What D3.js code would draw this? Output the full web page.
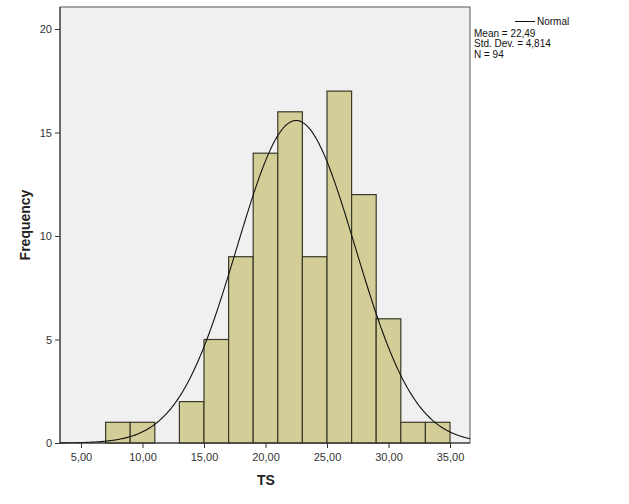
<!DOCTYPE html>
<html><head><meta charset="utf-8">
<script src="https://cdn.jsdelivr.net/npm/d3@7"></script>
<style>body{margin:0;background:#fff}svg{display:block}text{font-family:"Liberation Sans",Arial,sans-serif}</style>
</head><body><svg id="c" width="629" height="504"></svg>
<script>
const binStarts = [7,9,11,13,15,17,19,21,23,25,27,29,31,33];
const binWidth = 2;
const freqs = [1,1,0,2,5,9,14,16,9,17,12,6,1,1];
const xTicks = [5,10,15,20,25,30,35];
const yTicks = [0,5,10,15,20];
const mean = 22.49, sd = 4.814, n = 94;
const legendLines = ["Mean = 22,49","Std. Dev. = 4,814","N = 94"];

const svg = d3.select("#c");
const L=60,R=470,T=7,B=443;
const x = d3.scaleLinear().domain([5,35]).range([81,450]);
const y = d3.scaleLinear().domain([0,20]).range([B,29]);
const fmt = d => d3.format(".2f")(d).replace(".",",");

svg.append("rect").attr("x",L).attr("y",T).attr("width",R-L).attr("height",B-T)
  .attr("fill","#f0f0f0").attr("stroke","#555").attr("stroke-width",1);

svg.append("g").selectAll("rect").data(binStarts.map((s,i)=>({s,f:freqs[i]})).filter(d=>d.f>0))
  .join("rect")
  .attr("x",d=>x(d.s)).attr("width",d=>x(d.s+binWidth)-x(d.s))
  .attr("y",d=>y(d.f)).attr("height",d=>y(0)-y(d.f))
  .attr("fill","#d3ce97").attr("stroke","#3a3a2a").attr("stroke-width",1.2);

const x0 = x.invert(L), x1 = x.invert(R);
const pts = d3.range(0,401).map(i=>{const v=x0+(x1-x0)*i/400;
  const p = n*binWidth/(sd*Math.sqrt(2*Math.PI))*Math.exp(-0.5*((v-mean)/sd)**2);
  return [v,p];});
svg.append("path").datum(pts).attr("fill","none").attr("stroke","#111").attr("stroke-width",1.1)
  .attr("d",d3.line().x(d=>x(d[0])).y(d=>y(d[1])));

// axes
const xa = svg.append("g").attr("transform",`translate(0,${B})`)
  .call(d3.axisBottom(x).tickValues(xTicks).tickFormat(fmt).tickSize(5).tickSizeOuter(0));
xa.select(".domain").remove();
xa.selectAll("text").attr("font-size",11).attr("fill","#333").attr("dy","0.9em");
xa.selectAll("line").attr("stroke","#333");
const ya = svg.append("g").attr("transform",`translate(${L},0)`)
  .call(d3.axisLeft(y).tickValues(yTicks).tickSize(5).tickSizeOuter(0));
ya.select(".domain").remove();
ya.selectAll("text").attr("font-size",11).attr("fill","#333");
ya.selectAll("line").attr("stroke","#333");
svg.append("line").attr("x1",L).attr("x2",L).attr("y1",T).attr("y2",B).attr("stroke","#333");
svg.append("line").attr("x1",L).attr("x2",R).attr("y1",B).attr("y2",B).attr("stroke","#333");

svg.append("text").attr("x",266).attr("y",485).attr("text-anchor","middle")
  .attr("font-size",14).attr("font-weight","bold").attr("fill","#222").text("TS");
svg.append("text").attr("transform","translate(30,225) rotate(-90)").attr("text-anchor","middle")
  .attr("font-size",14).attr("font-weight","bold").attr("fill","#222").text("Frequency");

// legend
svg.append("line").attr("x1",515).attr("x2",535).attr("y1",21.5).attr("y2",21.5).attr("stroke","#111");
svg.append("text").attr("x",537).attr("y",25).attr("font-size",10).attr("fill","#111").text("Normal");
legendLines.forEach((t,i)=>svg.append("text").attr("x",474).attr("y",36.5+i*10.5)
  .attr("font-size",10).attr("fill","#111").text(t));
</script></body></html>
